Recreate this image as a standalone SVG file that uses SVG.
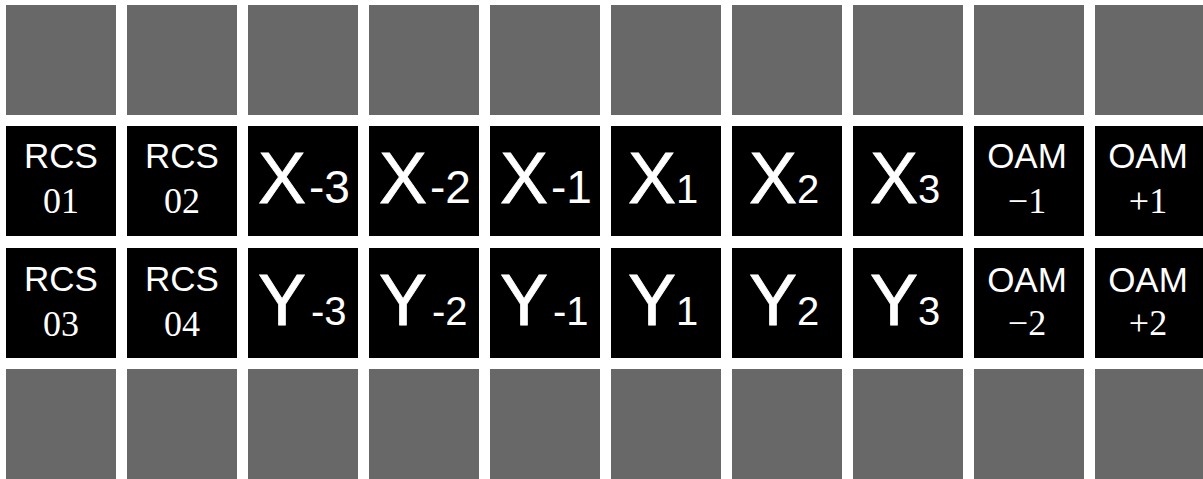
<svg xmlns="http://www.w3.org/2000/svg" width="1203" height="479" viewBox="0 0 1203 479">
<style>
.g{fill:#686868}
.b{fill:#000}
.s{font-family:"Liberation Sans",Arial,sans-serif;fill:#fff}
.r{font-family:"Liberation Serif","Times New Roman",serif;fill:#fff}
.lab{font-size:35px}
.num{font-size:36px}
.big{font-size:72px;stroke:#fff;stroke-width:0.8px}
.sn{font-size:46px;stroke-width:0}
.sp{font-size:40px;stroke-width:0}
</style>
<rect width="1203" height="479" fill="#fff"/>
<g id="row1">
<rect class="g" x="6" y="5" width="110" height="110"/>
<rect class="g" x="127" y="5" width="110" height="110"/>
<rect class="g" x="248" y="5" width="110" height="110"/>
<rect class="g" x="369" y="5" width="110" height="110"/>
<rect class="g" x="490" y="5" width="110" height="110"/>
<rect class="g" x="611" y="5" width="110" height="110"/>
<rect class="g" x="732" y="5" width="110" height="110"/>
<rect class="g" x="853" y="5" width="110" height="110"/>
<rect class="g" x="974" y="5" width="110" height="110"/>
<rect class="g" x="1095" y="5" width="110" height="110"/>
</g>
<g id="row4">
<rect class="g" x="6" y="369" width="110" height="110"/>
<rect class="g" x="127" y="369" width="110" height="110"/>
<rect class="g" x="248" y="369" width="110" height="110"/>
<rect class="g" x="369" y="369" width="110" height="110"/>
<rect class="g" x="490" y="369" width="110" height="110"/>
<rect class="g" x="611" y="369" width="110" height="110"/>
<rect class="g" x="732" y="369" width="110" height="110"/>
<rect class="g" x="853" y="369" width="110" height="110"/>
<rect class="g" x="974" y="369" width="110" height="110"/>
<rect class="g" x="1095" y="369" width="110" height="110"/>
</g>
<g id="rcs01"><rect class="b" x="6" y="126" width="110" height="110"/><text class="s lab" x="61" y="168" text-anchor="middle">RCS</text><text class="r num" x="61" y="213" text-anchor="middle">01</text></g>
<g id="rcs02"><rect class="b" x="127" y="126" width="110" height="110"/><text class="s lab" x="182" y="168" text-anchor="middle">RCS</text><text class="r num" x="182" y="213" text-anchor="middle">02</text></g>
<g id="xm3"><rect class="b" x="248" y="126" width="110" height="110"/><text class="s big" x="258" y="203">X<tspan class="sn" dx="3">-3</tspan></text></g>
<g id="xm2"><rect class="b" x="369" y="126" width="110" height="110"/><text class="s big" x="379" y="203">X<tspan class="sn" dx="3">-2</tspan></text></g>
<g id="xm1"><rect class="b" x="490" y="126" width="110" height="110"/><text class="s big" x="500" y="203">X<tspan class="sn" dx="3">-1</tspan></text></g>
<g id="x1"><rect class="b" x="611" y="126" width="110" height="110"/><text class="s big" x="628" y="203">X<tspan class="sp">1</tspan></text></g>
<g id="x2"><rect class="b" x="732" y="126" width="110" height="110"/><text class="s big" x="749" y="203">X<tspan class="sp">2</tspan></text></g>
<g id="x3"><rect class="b" x="853" y="126" width="110" height="110"/><text class="s big" x="870" y="203">X<tspan class="sp">3</tspan></text></g>
<g id="oamm1"><rect class="b" x="974" y="126" width="110" height="110"/><text class="s lab" x="1027" y="168" text-anchor="middle">OAM</text><text class="r num" x="1027" y="213" text-anchor="middle">−1</text></g>
<g id="oamp1"><rect class="b" x="1095" y="126" width="110" height="110"/><text class="s lab" x="1148" y="168" text-anchor="middle">OAM</text><text class="r num" x="1148" y="213" text-anchor="middle">+1</text></g>
<g id="rcs03"><rect class="b" x="6" y="248" width="110" height="110"/><text class="s lab" x="61" y="291" text-anchor="middle">RCS</text><text class="r num" x="61" y="336" text-anchor="middle">03</text></g>
<g id="rcs04"><rect class="b" x="127" y="248" width="110" height="110"/><text class="s lab" x="182" y="291" text-anchor="middle">RCS</text><text class="r num" x="182" y="336" text-anchor="middle">04</text></g>
<g id="ym3"><rect class="b" x="248" y="248" width="110" height="110"/><text class="s big" x="258" y="325">Y<tspan class="sp" dx="5">-3</tspan></text></g>
<g id="ym2"><rect class="b" x="369" y="248" width="110" height="110"/><text class="s big" x="379" y="325">Y<tspan class="sp" dx="5">-2</tspan></text></g>
<g id="ym1"><rect class="b" x="490" y="248" width="110" height="110"/><text class="s big" x="500" y="325">Y<tspan class="sp" dx="5">-1</tspan></text></g>
<g id="y1"><rect class="b" x="611" y="248" width="110" height="110"/><text class="s big" x="628" y="325">Y<tspan class="sp">1</tspan></text></g>
<g id="y2"><rect class="b" x="732" y="248" width="110" height="110"/><text class="s big" x="749" y="325">Y<tspan class="sp">2</tspan></text></g>
<g id="y3"><rect class="b" x="853" y="248" width="110" height="110"/><text class="s big" x="870" y="325">Y<tspan class="sp">3</tspan></text></g>
<g id="oamm2"><rect class="b" x="974" y="248" width="110" height="110"/><text class="s lab" x="1027" y="292" text-anchor="middle">OAM</text><text class="r num" x="1027" y="335" text-anchor="middle">−2</text></g>
<g id="oamp2"><rect class="b" x="1095" y="248" width="110" height="110"/><text class="s lab" x="1148" y="292" text-anchor="middle">OAM</text><text class="r num" x="1148" y="335" text-anchor="middle">+2</text></g>
<g id="connectors"></g>
</svg>
